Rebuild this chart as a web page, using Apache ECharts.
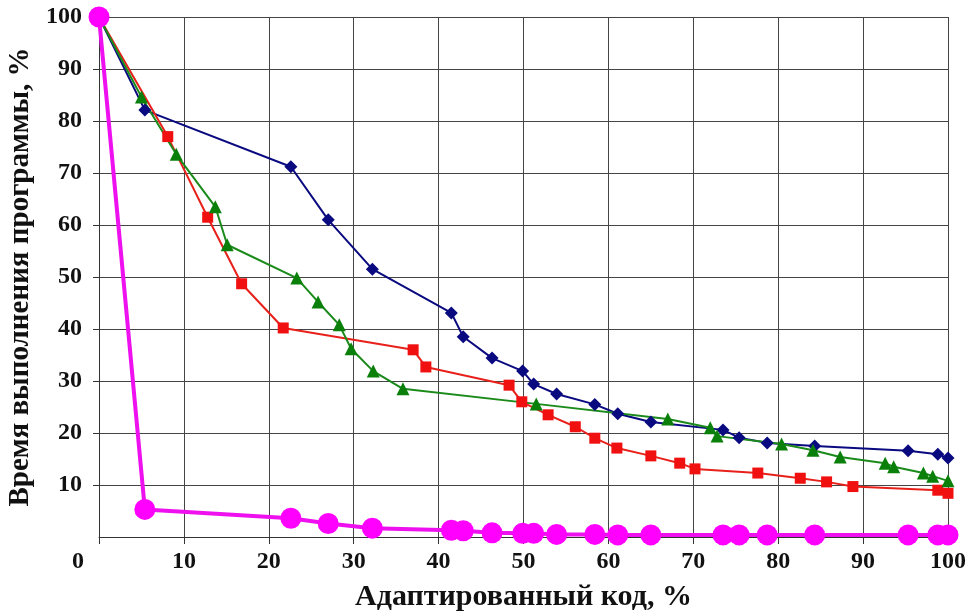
<!DOCTYPE html>
<html>
<head>
<meta charset="utf-8">
<script src="https://cdn.jsdelivr.net/npm/echarts@6/dist/echarts.min.js"></script>
<style>
  html, body { margin: 0; padding: 0; background: #fff; }
  #chart { width: 972px; height: 615px; }
</style>
</head>
<body>
<div id="chart"></div>
<script>
  // x-значения (адаптированный код, %) и время выполнения, %
  const blueX = [0, 5.4, 22.6, 27.0, 32.2, 41.5, 42.9, 46.3, 49.9, 51.2, 53.9, 58.4, 61.1, 65.0, 73.5, 75.4, 78.7, 84.3, 95.3, 98.8, 100];
  const blueY = [100, 82.1, 71.2, 61.0, 51.5, 43.1, 38.5, 34.4, 31.9, 29.4, 27.5, 25.5, 23.7, 22.1, 20.6, 19.1, 18.1, 17.5, 16.6, 15.9, 15.2];

  const redX = [0, 8.1, 12.8, 16.8, 21.7, 37.0, 38.5, 48.3, 49.8, 52.9, 56.1, 58.4, 61.0, 65.0, 68.4, 70.2, 77.6, 82.6, 85.7, 88.8, 98.8, 100];
  const redY = [100, 77.0, 61.5, 48.7, 40.2, 36.0, 32.7, 29.2, 26.0, 23.5, 21.2, 19.0, 17.1, 15.6, 14.2, 13.1, 12.3, 11.3, 10.6, 9.7, 9.0, 8.4];

  const greenX = [0, 5.0, 9.1, 13.7, 15.1, 23.3, 25.8, 28.3, 29.7, 32.3, 35.8, 51.5, 67.0, 72.0, 72.8, 80.4, 84.1, 87.3, 92.6, 93.6, 97.1, 98.2, 100];
  const greenY = [100, 84.6, 73.6, 63.5, 56.2, 49.8, 45.2, 40.8, 36.2, 31.9, 28.5, 25.6, 22.7, 21.0, 19.4, 17.9, 16.7, 15.4, 14.2, 13.5, 12.3, 11.7, 10.8];

  const pinkX = [0, 5.4, 22.6, 27.0, 32.2, 41.5, 42.9, 46.3, 49.9, 51.2, 53.9, 58.4, 61.1, 65.0, 73.5, 75.4, 78.7, 84.3, 95.3, 98.8, 100];
  const pinkY = [100, 5.3, 3.6, 2.6, 1.7, 1.3, 1.2, 0.8, 0.7, 0.7, 0.5, 0.5, 0.4, 0.4, 0.4, 0.4, 0.4, 0.4, 0.4, 0.4, 0.4];

  const pairs = (xs, ys) => xs.map((x, i) => [x, ys[i]]);

  const font = '"Liberation Serif", "Times New Roman", serif';

  const chart = echarts.init(document.getElementById('chart'));
  chart.setOption({
    animation: false,
    backgroundColor: '#fff',
    grid: { left: 99, right: 24, top: 17, bottom: 78, outerBoundsMode: 'none', containLabel: false },
    xAxis: {
      type: 'value',
      min: 0, max: 100, interval: 10,
      name: 'Адаптированный код, %',
      nameLocation: 'middle',
      nameGap: 45,
      nameTextStyle: { fontFamily: font, fontWeight: 'bold', fontSize: 30, color: '#111' },
      axisLine: { lineStyle: { color: '#333', width: 1 } },
      axisTick: { show: true, length: 7, lineStyle: { color: '#333' } },
      axisLabel: {
        margin: 13,
        fontFamily: font, fontWeight: 'bold', fontSize: 24, color: '#111',
        formatter: v => v === 0 ? '{z|0}' : String(v),
        rich: { z: { fontFamily: font, fontWeight: 'bold', fontSize: 24, color: '#111', padding: [0, 42, 0, 0] } }
      },
      splitLine: { show: true, lineStyle: { color: '#444', width: 1 } }
    },
    yAxis: {
      type: 'value',
      min: 0, max: 100, interval: 10,
      name: 'Время выполнения программы, %',
      nameLocation: 'middle',
      nameGap: 62,
      nameTextStyle: { fontFamily: font, fontWeight: 'bold', fontSize: 29, color: '#111' },
      axisLine: { show: true, lineStyle: { color: '#333', width: 1 } },
      axisTick: { show: true, length: 6, lineStyle: { color: '#333' } },
      axisLabel: {
        margin: 17,
        showMinLabel: false,
        fontFamily: font, fontWeight: 'bold', fontSize: 24, color: '#111'
      },
      splitLine: { show: true, lineStyle: { color: '#444', width: 1 } }
    },
    series: [{
      type: 'line',
      data: pairs(blueX, blueY),
      symbol: 'diamond',
      symbolSize: 13,
      lineStyle: { color: '#0a0a80', width: 2 },
      itemStyle: { color: '#0a0a80' }
    }, {
      type: 'line',
      data: pairs(redX, redY),
      symbol: 'rect',
      symbolSize: 11,
      lineStyle: { color: '#e8201a', width: 2 },
      itemStyle: { color: '#f01010' }
    }, {
      type: 'line',
      data: pairs(greenX, greenY),
      symbol: 'triangle',
      symbolSize: 13,
      lineStyle: { color: '#1a8a1a', width: 2 },
      itemStyle: { color: '#0a800a' }
    }, {
      type: 'line',
      data: pairs(pinkX, pinkY),
      symbol: 'circle',
      symbolSize: 21,
      lineStyle: { color: '#ee10ee', width: 4 },
      itemStyle: { color: '#ff00ff' }
    }]
  });
</script>
</body>
</html>
